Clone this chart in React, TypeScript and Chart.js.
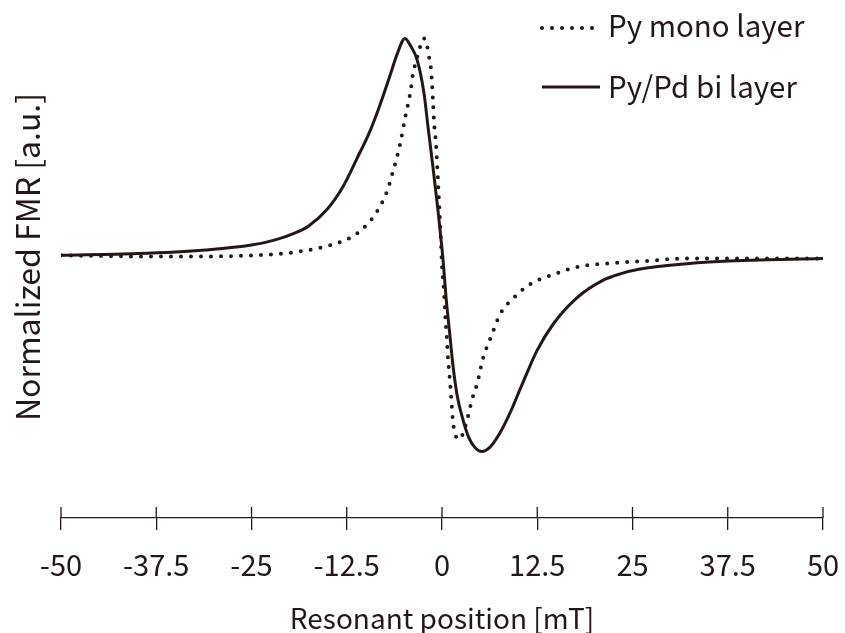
import React, { useEffect, useRef } from 'react';
import { Chart, registerables } from 'chart.js';

Chart.register(...registerables);

const INK = '#231815';
const FONT = '"Noto Sans CJK JP", "Noto Sans", sans-serif';

const xTicks = [-50, -37.5, -25, -12.5, 0, 12.5, 25, 37.5, 50];
const xTitle = 'Resonant position [mT]';
const yTitle = 'Normalized FMR [a.u.]';
const seriesLabels = ['Py mono layer', 'Py/Pd bi layer'];

// Py mono layer (dotted)
const monoX = [-50, -40, -30, -24.5, -22.2, -18.6, -14.3, -11.7, -9.84, -8.53, -7.22, -6.43, -5.51, -4.86, -4.2, -3.81, -3.15, -2.36, -1.97, -1.71, -1.44, -1.31, -1.18, -1.05, -0.79, -0.66, -0.52, -0.39, -0.26, -0.13, 0, 0.26, 0.39, 0.66, 0.79, 1.05, 1.18, 1.44, 1.71, 2.1, 2.49, 2.76, 3.41, 3.94, 4.59, 5.38, 6.56, 7.61, 9.32, 11.55, 14.57, 18.11, 21.65, 25.98, 32.5, 50];
const monoY = [0.005, 0, 0, 0.005, 0.009, 0.023, 0.055, 0.092, 0.147, 0.206, 0.298, 0.39, 0.514, 0.633, 0.743, 0.835, 0.927, 1.0, 0.968, 0.917, 0.858, 0.794, 0.711, 0.619, 0.518, 0.436, 0.344, 0.252, 0.161, 0.06, -0.046, -0.161, -0.252, -0.39, -0.468, -0.573, -0.633, -0.757, -0.812, -0.839, -0.83, -0.812, -0.734, -0.656, -0.587, -0.468, -0.358, -0.266, -0.193, -0.128, -0.083, -0.046, -0.032, -0.023, -0.009, -0.009];

// Py/Pd bi layer (solid)
const biX = [-50, -40, -31, -25, -22, -19.5, -17.5, -15.1, -13.0, -11.15, -9.45, -8.14, -6.82, -5.9, -4.86, -4.07, -3.28, -2.36, -1.84, -1.31, -0.66, 0.13, 0.52, 1.0, 1.44, 2.0, 2.76, 3.5, 4.3, 5.25, 6.3, 7.6, 8.9, 10.6, 12.5, 14.6, 17.7, 21.1, 23.4, 26, 32.5, 36.9, 50];
const biY = [0.005, 0.013, 0.03, 0.052, 0.075, 0.105, 0.14, 0.215, 0.32, 0.45, 0.575, 0.695, 0.83, 0.927, 1.0, 0.963, 0.904, 0.748, 0.596, 0.445, 0.252, -0.014, -0.183, -0.35, -0.5, -0.64, -0.75, -0.83, -0.875, -0.895, -0.875, -0.81, -0.72, -0.58, -0.43, -0.31, -0.19, -0.11, -0.08, -0.058, -0.032, -0.022, -0.009];

const toPoints = (xs: number[], ys: number[]) => xs.map((x, i) => ({ x, y: ys[i] }));

const decor = {
  id: 'decor',
  afterDraw(chart: any) {
    const { ctx, chartArea, scales } = chart;
    const xs = scales.x;
    ctx.save();
    // upper halves of the tick marks
    ctx.strokeStyle = INK;
    ctx.lineWidth = 1.3;
    xs.ticks.forEach((t: any) => {
      const px = xs.getPixelForValue(t.value);
      ctx.beginPath();
      ctx.moveTo(px, chartArea.bottom - 11);
      ctx.lineTo(px, chartArea.bottom);
      ctx.stroke();
    });
    // y-axis title
    ctx.fillStyle = INK;
    ctx.font = `32px ${FONT}`;
    ctx.save();
    ctx.translate(28, 257);
    ctx.rotate(-Math.PI / 2);
    ctx.textAlign = 'center';
    ctx.textBaseline = 'middle';
    ctx.fillText(yTitle, 0, 0);
    ctx.restore();
    // legend
    ctx.strokeStyle = INK;
    ctx.lineCap = 'round';
    ctx.lineWidth = 4;
    ctx.setLineDash([0, 10]);
    ctx.beginPath();
    ctx.moveTo(542, 28);
    ctx.lineTo(592.5, 28);
    ctx.stroke();
    ctx.setLineDash([]);
    ctx.lineCap = 'butt';
    ctx.lineWidth = 2.8;
    ctx.beginPath();
    ctx.moveTo(542, 87);
    ctx.lineTo(600, 87);
    ctx.stroke();
    ctx.font = `29.5px ${FONT}`;
    ctx.textAlign = 'left';
    ctx.textBaseline = 'alphabetic';
    ctx.fillText(seriesLabels[0], 608, 37);
    ctx.fillText(seriesLabels[1], 608, 98);
    ctx.restore();
  },
};

export default function App() {
  const ref = useRef<HTMLCanvasElement>(null);
  useEffect(() => {
    if (!ref.current) return;
    const chart = new Chart(ref.current, {
      type: 'line',
      data: {
        datasets: [
          {
            label: seriesLabels[1],
            data: toPoints(biX, biY),
            borderColor: INK,
            borderWidth: 3,
            borderJoinStyle: 'round',
            pointRadius: 0,
            fill: false,
            cubicInterpolationMode: 'monotone',
          },
          {
            label: seriesLabels[0],
            data: toPoints(monoX, monoY),
            borderColor: INK,
            borderWidth: 4,
            borderDash: [0, 10],
            borderCapStyle: 'round',
            borderJoinStyle: 'round',
            pointRadius: 0,
            fill: false,
            cubicInterpolationMode: 'monotone',
          },
        ],
      },
      options: {
        animation: false,
        responsive: false,
        events: [],
        layout: { padding: { top: 21, left: 61, right: 22, bottom: 0 } },
        plugins: { legend: { display: false }, tooltip: { enabled: false } },
        scales: {
          x: {
            type: 'linear',
            min: -50,
            max: 50,
            afterBuildTicks: (s: any) => {
              s.ticks = xTicks.map((v) => ({ value: v }));
            },
            afterFit: (s: any) => {
              s.height = 115;
              s.paddingLeft = 0;
              s.paddingRight = 0;
            },
            ticks: {
              color: INK,
              font: { family: FONT, size: 29 },
              padding: 18,
              maxRotation: 0,
              callback: (v: any) => String(v),
            },
            grid: {
              display: true,
              drawOnChartArea: false,
              drawTicks: true,
              tickLength: 12,
              color: INK,
              lineWidth: 1.3,
            },
            border: { display: true, color: INK, width: 1.3 },
            title: {
              display: true,
              text: xTitle,
              color: INK,
              font: { family: FONT, size: 28, lineHeight: 1 },
              padding: { top: 0, bottom: 1 },
            },
          },
          y: {
            type: 'linear',
            display: false,
            min: -1.2,
            max: 1.08,
          },
        },
      },
      plugins: [decor],
    });
    return () => chart.destroy();
  }, []);
  return (
    <div style={{ position: 'absolute', left: 0, top: 0, width: 845, height: 633, background: '#fff' }}>
      <canvas ref={ref} width={845} height={633} />
    </div>
  );
}
